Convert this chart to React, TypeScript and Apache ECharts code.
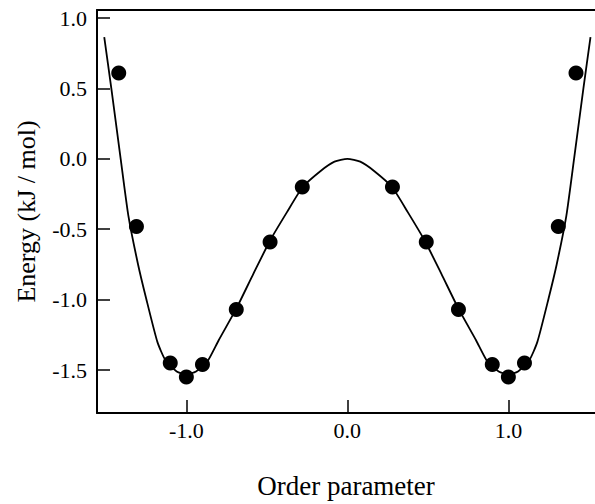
import React, { useEffect, useRef } from "react";
import * as echarts from "echarts";

// Measured data points (order parameter, energy)
const pointX = [-1.42, -1.31, -1.1, -1.0, -0.9, -0.69, -0.48, -0.28, 0.28, 0.49, 0.69, 0.9, 1.0, 1.1, 1.31, 1.42];
const pointY = [0.61, -0.48, -1.45, -1.55, -1.46, -1.07, -0.59, -0.2, -0.2, -0.59, -1.07, -1.46, -1.55, -1.45, -0.48, 0.61];

// Fitted curve
const curveX = [
  -1.51, -1.466, -1.408, -1.36, -1.3, -1.25, -1.18, -1.13, -1.06, -1.0, -0.94, -0.87, -0.8, -0.69, -0.584, -0.48, -0.376, -0.277, -0.166, -0.08, 0,
  0.08, 0.166, 0.277, 0.376, 0.48, 0.584, 0.69, 0.8, 0.87, 0.94, 1.0, 1.06, 1.13, 1.18, 1.25, 1.3, 1.36, 1.408, 1.466, 1.51,
];
const curveY = [
  0.865, 0.5, 0.0, -0.405, -0.75, -0.99, -1.3, -1.43, -1.51, -1.53, -1.51, -1.44, -1.29, -1.064, -0.817, -0.58, -0.38, -0.2, -0.086, -0.02, 0,
  -0.02, -0.086, -0.2, -0.38, -0.58, -0.817, -1.064, -1.29, -1.44, -1.51, -1.53, -1.51, -1.43, -1.3, -0.99, -0.75, -0.405, 0.0, 0.5, 0.865,
];

const xTicks = [-1, 0, 1];
const yTicks = [-1.5, -1, -0.5, 0, 0.5, 1];

const FONT = "'Liberation Serif', 'Times New Roman', serif";

export default function App() {
  const ref = useRef<HTMLDivElement>(null);
  useEffect(() => {
    if (!ref.current) return;
    const chart = echarts.init(ref.current, null, { renderer: "svg" });
    const fmt = (v: number) => v.toFixed(1);
    chart.setOption({
      animation: false,
      backgroundColor: "#ffffff",
      grid: { left: 97, right: 0, top: 10, bottom: 89 },
      xAxis: [
        {
          type: "value",
          min: -1.555,
          max: 1.538,
          name: "Order parameter",
          nameLocation: "middle",
          nameGap: 59,
          nameTextStyle: { fontFamily: FONT, fontSize: 27, color: "#000" },
          axisLine: { show: true, onZero: false, lineStyle: { color: "#000", width: 2 } },
          axisTick: { show: true, inside: true, length: 13, customValues: xTicks, lineStyle: { color: "#000", width: 1.5 } },
          axisLabel: { customValues: xTicks, formatter: fmt, margin: 6, fontFamily: FONT, fontSize: 22, color: "#000" },
          splitLine: { show: false },
        },
        {
          type: "value",
          position: "top",
          min: -1.555,
          max: 1.538,
          axisLine: { show: true, onZero: false, lineStyle: { color: "#000", width: 2 } },
          axisTick: { show: false },
          axisLabel: { show: false },
          splitLine: { show: false },
        },
      ],
      yAxis: {
        type: "value",
        min: -1.805,
        max: 1.057,
        name: "Energy (kJ / mol)",
        nameLocation: "middle",
        nameGap: 58,
        nameTextStyle: { fontFamily: FONT, fontSize: 26, color: "#000" },
        axisLine: { show: true, onZero: false, lineStyle: { color: "#000", width: 2 } },
        axisTick: { show: true, inside: true, length: 13, customValues: yTicks, lineStyle: { color: "#000", width: 1.5 } },
        axisLabel: { customValues: yTicks, formatter: fmt, margin: 10, fontFamily: FONT, fontSize: 22, color: "#000" },
        splitLine: { show: false },
      },
      series: [
        {
          type: "line",
          data: curveX.map((x, i) => [x, curveY[i]]),
          smooth: 0.2,
          showSymbol: false,
          lineStyle: { color: "#000", width: 1.8 },
          z: 2,
        },
        {
          type: "scatter",
          data: pointX.map((x, i) => [x, pointY[i]]),
          symbol: "circle",
          symbolSize: 15,
          itemStyle: { color: "#000", opacity: 1 },
          z: 3,
        },
      ],
    });
    return () => chart.dispose();
  }, []);
  return <div ref={ref} style={{ position: "fixed", left: 0, top: 0, width: 595, height: 504 }} />;
}
